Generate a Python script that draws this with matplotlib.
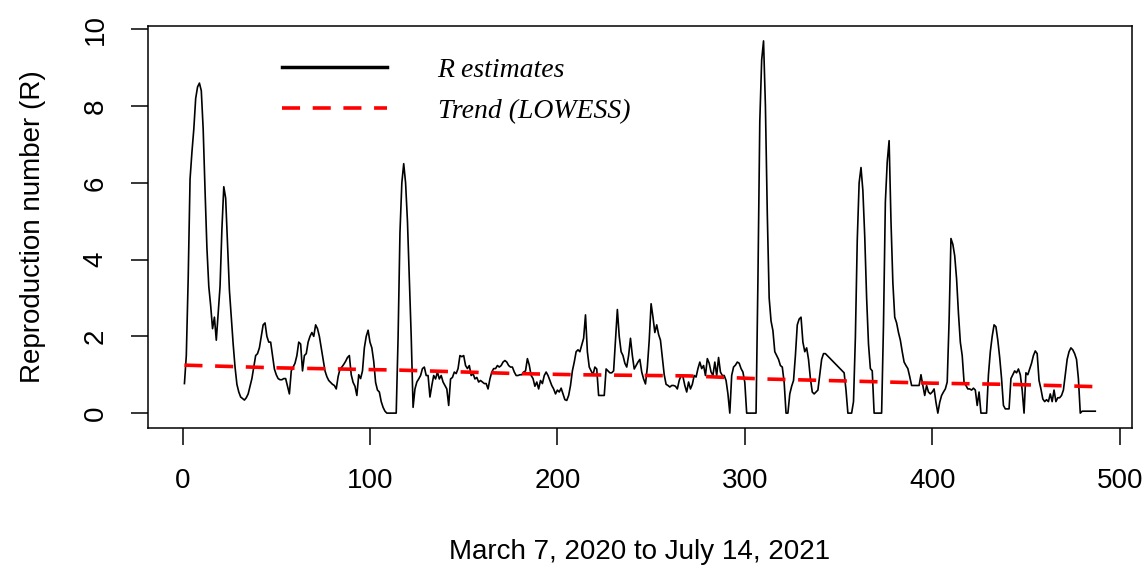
import numpy as np
import matplotlib
matplotlib.use("Agg")
import matplotlib.pyplot as plt
from matplotlib.lines import Line2D

plt.rcParams['font.family'] = ['Liberation Sans', 'DejaVu Sans']

# daily R estimates, split by stretch of days
r_d001_057 = [0.77, 1.5, 3.5, 6.1, 6.8, 7.4, 8.2, 8.5, 8.6, 8.4,
              7.4, 5.8, 4.3, 3.3, 2.8, 2.2, 2.5, 1.9, 2.6, 3.3,
              4.8, 5.9, 5.6, 4.4, 3.2, 2.5, 1.8, 1.2, 0.75, 0.55,
              0.42, 0.38, 0.34, 0.4, 0.5, 0.7, 0.9, 1.2, 1.5, 1.55,
              1.7, 2.0, 2.3, 2.35, 2.0, 1.85, 1.85, 1.5, 1.15, 1.0,
              0.9, 0.87, 0.87, 0.9, 0.9, 0.7, 0.5]
r_d058_118 = [1.1, 1.2, 1.3, 1.5, 1.85, 1.8, 1.1, 1.5, 1.55, 1.85,
              2.0, 2.1, 2.0, 2.3, 2.2, 2.0, 1.7, 1.4, 1.1, 0.95,
              0.85, 0.8, 0.75, 0.72, 0.63, 0.95, 1.15, 1.2, 1.27, 1.35,
              1.45, 1.5, 1.0, 0.8, 0.7, 0.46, 1.0, 0.9, 1.1, 1.7,
              2.0, 2.16, 1.85, 1.7, 1.35, 0.8, 0.6, 0.55, 0.3, 0.15,
              0.05, 0, 0, 0, 0, 0, 0, 1.97, 4.7, 6.0, 6.5]
r_d119_123 = [6.0, 5.0, 3.5, 2.0, 0.15]
r_d124_179 = [0.63, 0.81, 0.89, 0.98, 1.16, 1.2, 0.98, 0.98, 0.42, 0.72,
              0.98, 0.89, 1.07, 0.89, 0.98, 0.81, 0.72, 0.63, 0.2, 0.89,
              0.93, 1.07, 1.03, 1.16, 1.5, 1.47, 1.5, 1.24, 1.16, 1.24,
              0.98, 1.03, 0.89, 0.93, 0.81, 0.85, 0.81, 0.77, 0.77, 0.63,
              0.89, 1.07, 1.16, 1.16, 1.24, 1.2, 1.24, 1.33, 1.37, 1.33,
              1.24, 1.2, 1.2, 1.07, 0.98, 0.98]
r_d180_241 = [1.0, 1.0, 1.07, 1.1, 1.42, 1.25, 0.98, 0.9, 0.7, 0.81,
              0.63, 0.85, 0.77, 0.98, 1.07, 0.98, 0.85, 0.72, 0.63, 0.5,
              0.6, 0.55, 0.65, 0.5, 0.35, 0.33, 0.46, 0.72, 1.1, 1.33,
              1.6, 1.65, 1.6, 1.78, 1.95, 2.56, 1.6, 1.2, 1.1, 1.0,
              1.2, 1.15, 0.46, 0.46, 0.46, 0.46, 1.15, 1.1, 1.05, 1.05,
              1.1, 1.9, 2.7, 2.0, 1.6, 1.5, 1.3, 1.2, 1.5, 1.95,
              1.5, 1.15]
r_d242_302 = [1.24, 1.33, 1.4, 1.07, 0.89, 0.76, 1.2, 1.9, 2.85, 2.5,
              2.1, 2.3, 2.05, 1.9, 1.45, 1.0, 0.75, 0.72, 0.68, 0.72,
              0.72, 0.7, 0.63, 0.85, 0.98, 0.95, 0.72, 0.55, 0.81, 0.63,
              0.75, 0.98, 0.94, 1.16, 1.33, 1.16, 1.24, 0.98, 1.42, 1.3,
              1.07, 0.98, 1.33, 0.98, 1.45, 1.07, 0.98, 0.98, 0.85, 0.5,
              0.0, 0.98, 1.2, 1.25, 1.33, 1.3, 1.16, 1.07, 0.8, 0.0,
              0.0]
r_d303_363 = [0, 0, 0, 0,
              3.45, 7.6, 9.2, 9.7, 8.0, 5.2, 3.0, 2.4, 2.15, 1.6,
              1.5, 1.4, 1.24, 1.2, 0.8, 0, 0, 0.5, 0.7, 0.85,
              1.5, 2.3, 2.45, 2.5, 1.85, 1.6, 1.7, 1.4, 0.9, 0.55,
              0.5, 0.55, 0.6, 1.0, 1.4, 1.55, 1.55, 1.5, 1.45, 1.4,
              1.35, 1.3, 1.25, 1.2, 1.15, 1.1, 1.05, 0.6, 0, 0,
              0, 0.3, 1.97, 4.5, 6.0, 6.4, 5.8]
r_d364_424 = [4.6, 3.0, 1.8, 1.16, 1.1, 0, 0, 0, 0, 0,
              2.3, 5.5, 6.55, 7.1, 5.0, 3.4, 2.5, 2.35, 2.1, 1.9,
              1.6, 1.33, 1.24, 1.16, 0.95, 0.72, 0.72, 0.72, 0.72, 0.72,
              1.0, 0.72, 0.46, 0.72, 0.55, 0.5, 0.55, 0.63, 0.28, 0,
              0.28, 0.46, 0.55, 0.63, 0.81, 2.4, 4.55, 4.4, 4.1, 3.5,
              2.6, 1.85, 1.5, 0.8, 0.72, 0.63, 0.63, 0.6, 0.65, 0.6,
              0.2]
r_d425_487 = [0.55, 0, 0, 0, 0,
              1.0, 1.6, 2.0, 2.3, 2.25, 1.9, 1.45, 0.9, 0.2, 0.11, 0.11, 0.11,
              0.9, 1.0, 1.1, 1.05, 1.15, 1.0, 0.6, 0,
              1.05, 1.0, 1.15, 1.3, 1.5, 1.62, 1.55, 0.85, 0.63,
              0.37, 0.3, 0.35, 0.3, 0.5, 0.3, 0.6, 0.3, 0.4, 0.4, 0.46, 0.6,
              1.0, 1.4, 1.6, 1.7, 1.65, 1.55, 1.4, 0.9,
              0, 0.05, 0.05, 0.05, 0.05, 0.05, 0.05, 0.05, 0.05]

r_est = np.array(r_d001_057 + r_d058_118 + r_d119_123 + r_d124_179 + r_d180_241
                 + r_d242_302 + r_d303_363 + r_d364_424 + r_d425_487)
days = np.arange(1, len(r_est) + 1)

# lowess trend, read at a few days
trend_days = [1, 50, 116, 179, 210, 270, 310, 360, 400, 440, 487]
trend_vals = [1.25, 1.18, 1.12, 1.03, 1.0, 0.97, 0.89, 0.83, 0.78, 0.75, 0.69]

fig = plt.figure(figsize=(11.47, 5.70), dpi=100)
ax = fig.add_axes([148/1147, 1 - 428/570, (1131.7 - 148)/1147, (428 - 26)/570])

ax.plot(days, r_est, color='black', lw=1.2)
ax.plot(trend_days, trend_vals, color='red', lw=2.6, linestyle=(0, (5, 3.5)))

# R style axis extents (4% padding)
xr = days.max() - days.min()
ax.set_xlim(days.min() - 0.04*xr, days.max() + 0.04*xr)
yr = r_est.max() - r_est.min()
ax.set_ylim(r_est.min() - 0.04*yr, r_est.max() + 0.04*yr)

ax.set_xticks([0, 100, 200, 300, 400, 500])
ax.set_yticks([0, 2, 4, 6, 8, 10])
ax.tick_params(length=12.5, width=1.1, labelsize=20, pad=16, colors='black')
for lab in ax.get_yticklabels():
    lab.set_rotation(90)
    lab.set_va('center')
for sp in ax.spines.values():
    sp.set_linewidth(1.1)

ax.set_xlabel('March 7, 2020 to July 14, 2021', fontsize=20, labelpad=33)
ax.set_ylabel('Reproduction number (R)', fontsize=20, labelpad=26)

handles = [Line2D([], [], color='black', lw=2.5),
           Line2D([], [], color='red', lw=2.6, linestyle=(0, (5, 3.5)))]
ax.legend(handles, ['R estimates', 'Trend (LOWESS)'], loc='upper left',
          bbox_to_anchor=(0.136, 0.922), frameon=False, borderpad=0, borderaxespad=0,
          handlelength=3.78, handletextpad=1.83, labelspacing=0.57,
          prop={'family': 'Liberation Serif', 'style': 'italic', 'size': 20})

fig.savefig('out.png', dpi=100)
